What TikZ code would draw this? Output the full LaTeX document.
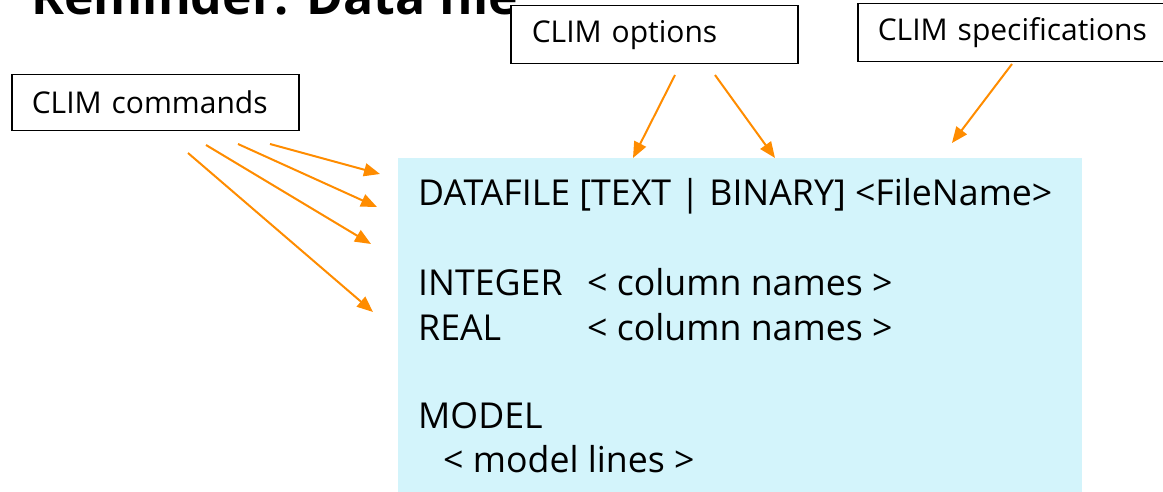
\documentclass[tikz,border=0pt]{standalone}
\usepackage{fontspec}
\setmainfont{Open Sans}
\usetikzlibrary{arrows.meta}
\definecolor{arrowor}{RGB}{255,140,0}
\definecolor{paleblue}{RGB}{211,244,251}
\tikzset{
  lbl/.style={draw=black, line width=1.5pt, fill=white, inner ysep=0pt, align=left,
    font=\fontsize{30}{35}\selectfont, anchor=north west},
  line/.style={anchor=base west, inner sep=0pt, font=\fontsize{35.7}{42}\selectfont},
  arr/.style={draw=arrowor, line width=2pt, -{Triangle[length=16pt,width=13pt]}},
}
\begin{document}
\begin{tikzpicture}[x=1pt,y=-1pt]
\useasboundingbox (0,0) rectangle (1163,492);
% title (cut off at top)
\node[anchor=base west, inner sep=0pt, font=\bfseries\fontsize{50}{60}\selectfont] (title) at (31,15) {Reminder: Data file};
% blue data box
\node[fill=paleblue, minimum width=684pt, minimum height=336pt, inner sep=0pt, anchor=north west] (data) at (398,158) {};
\node[line] (l1) at (418,205) {DATAFILE [TEXT | BINARY] <FileName>};
\node[line] (l2a) at (418,295) {INTEGER};
\node[line] (l2b) at (587,295) {< column names >};
\node[line] (l3a) at (418,340) {REAL};
\node[line] (l3b) at (587,340) {< column names >};
\node[line] (l4) at (418,428) {MODEL};
\node[line] (l5) at (443,472) {< model lines >};
% label boxes
\node[lbl, minimum height=56pt, text width=247pt, inner xsep=20pt] (cmd) at (11,74) {CLIM commands};
\node[lbl, minimum height=58pt, text width=245pt, inner xsep=21pt] (opt) at (510,5) {CLIM options};
\node[lbl, minimum height=58pt, text width=280pt, inner xsep=20pt] (spec) at (857,3) {CLIM specifications};
% arrow coordinates
\coordinate (c1s) at (270,144); \coordinate (c1e) at (380,174);
\coordinate (c2s) at (238,144); \coordinate (c2e) at (377,207);
\coordinate (c3s) at (206,145); \coordinate (c3e) at (371,244);
\coordinate (c4s) at (188,153); \coordinate (c4e) at (373,312);
\coordinate (o1s) at (675,75); \coordinate (o1e) at (633,158);
\coordinate (o2s) at (715,75); \coordinate (o2e) at (775,158);
\coordinate (s1s) at (1012,64); \coordinate (s1e) at (952,143);
\draw[arr] (c1s) -- (c1e);
\draw[arr] (c2s) -- (c2e);
\draw[arr] (c3s) -- (c3e);
\draw[arr] (c4s) -- (c4e);
\draw[arr] (o1s) -- (o1e);
\draw[arr] (o2s) -- (o2e);
\draw[arr] (s1s) -- (s1e);
\end{tikzpicture}
\end{document}
